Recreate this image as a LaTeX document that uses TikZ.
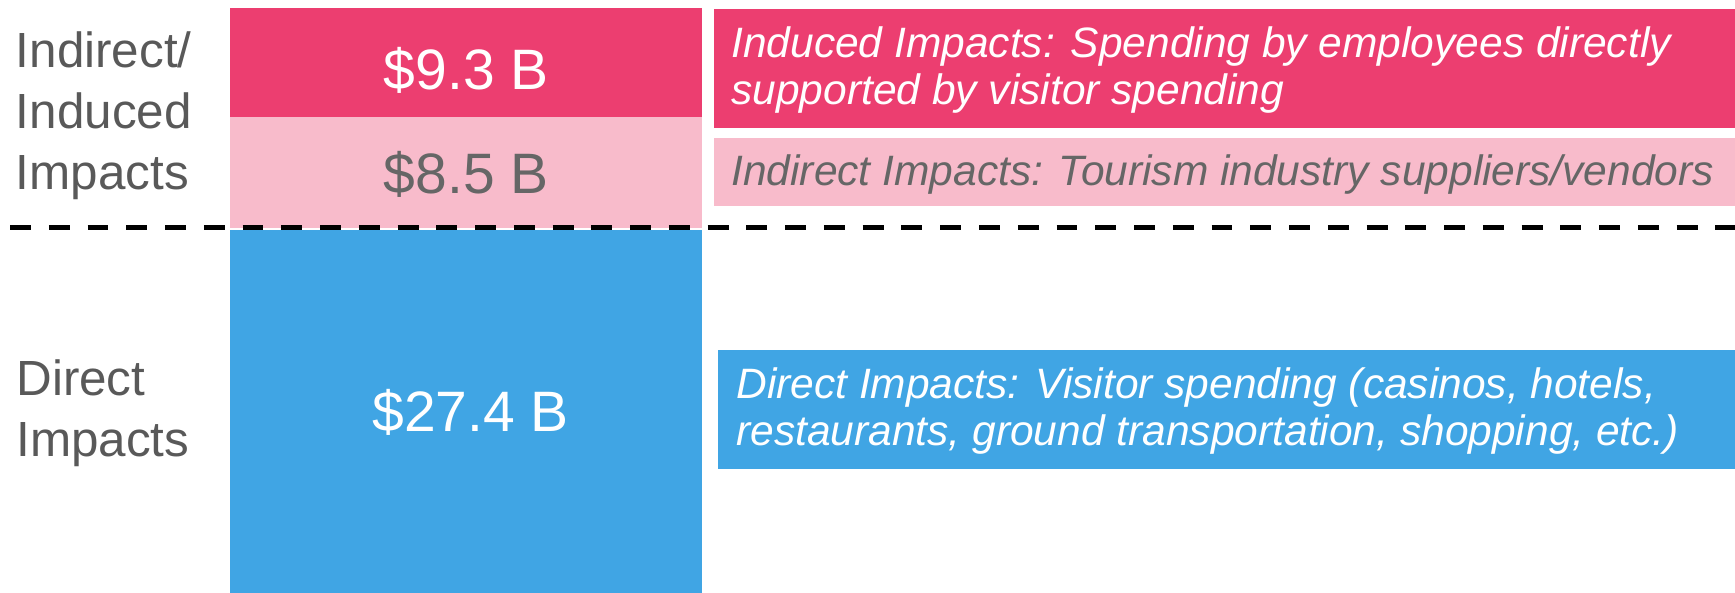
\documentclass[tikz,border=0pt]{standalone}
\usepackage{fontspec}
\setmainfont{Liberation Sans}
\usepackage{tikz}
\definecolor{inducedred}{RGB}{236,62,112}
\definecolor{indirectpink}{RGB}{248,187,203}
\definecolor{directblue}{RGB}{64,165,228}
\definecolor{labelgray}{RGB}{89,89,89}
\definecolor{valuegray}{RGB}{102,102,102}
\tikzstyle{amount}=[inner sep=0pt, anchor=base west, font=\fontsize{28.5}{34}\selectfont]
\tikzstyle{side}=[inner sep=0pt, anchor=base west, align=left, text=labelgray, font=\fontsize{24.7}{30.5}\selectfont]
\tikzstyle{note}=[inner sep=0pt, anchor=base west, align=left, font=\fontsize{21.25}{23.5}\selectfont\itshape]
\tikzstyle{cutline}=[draw=black, line width=2.5pt, dash pattern=on 10.45pt off 8.93pt]

\begin{document}
\begin{tikzpicture}[x=0.5pt, y=-0.5pt]
\useasboundingbox (0,0) rectangle (1735,593);
% stacked bar
\fill[inducedred] (230,8) rectangle (701.5,116.7);
\fill[indirectpink] (230,116.7) rectangle (701.5,228);
\fill[directblue] (230,230.5) rectangle (701.5,593);
\node[amount, text=white] (induced) at (383.5,89.3) {\$9.3 B};
\node[amount, text=valuegray] (indirect) at (383.5,193.3) {\$8.5 B};
\node[amount, text=white] (direct) at (372,431.7) {\$27.4 B};
% labels on the left (anchored at the last line)
\node[side] (upperlabel) at (15.5,189.3) {Indirect/\\Induced\\Impacts};
\node[side] (lowerlabel) at (16,456) {Direct\\Impacts};
% boxes on the right
\fill[inducedred] (713.5,9) rectangle (1735,128.3);
\fill[indirectpink] (713.5,137.7) rectangle (1735,205.7);
\fill[directblue] (718.3,350) rectangle (1735,469.3);
\node[note, text=white] (inducednote) at (731,104.3)
  {Induced Impacts: Spending by employees directly\\supported by visitor spending};
\node[note, text=valuegray] (indirectnote) at (731,186)
  {Indirect Impacts: Tourism industry suppliers/vendors};
\node[note, text=white] (directnote) at (736,445.6)
  {Direct Impacts: Visitor spending (casinos, hotels,\\restaurants, ground transportation, shopping, etc.)};
% dashed divider
\coordinate (cutwest) at (10,227.5);
\coordinate (cuteast) at (1735,227.5);
\draw[cutline] (cutwest) -- (cuteast);
\end{tikzpicture}
\end{document}
